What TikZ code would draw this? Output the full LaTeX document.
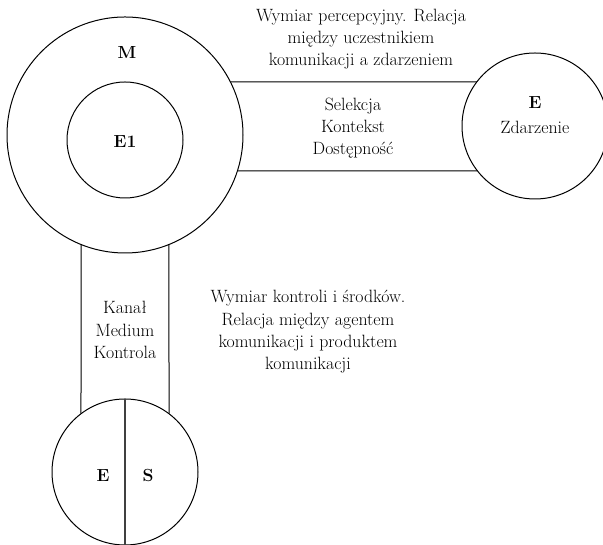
\documentclass[tikz,border=0pt]{standalone}
\usepackage{fontspec}
\usetikzlibrary{positioning}

\begin{document}
\begin{tikzpicture}[
  x = 1pt,
  y = 1pt,
  line width = 1pt,
  ring/.style = {
    shape = circle,
    draw = black,
    inner sep = 0pt,
    outer sep = 0pt
  },
  txt/.style = {
    align = center,
    font = \fontsize{17.8}{22.3}\selectfont
  },
  tag/.style = {
    font = \fontsize{17.5}{22}\selectfont\bfseries
  }
]
  \clip (0, 0) rectangle (603, 545);

  % the three circles
  \node[ring, minimum size = 236pt] (M) at (125, 410) {};
  \node[ring, minimum size = 116pt] (E1) at (125, 405) {};
  \node[ring, minimum size = 146pt] (E) at (535, 419) {};
  \node[ring, minimum size = 146pt] (ES) at (125, 73) {};

  \node[tag] (mlab) at (127, 492) {M};
  \node[tag] (e1lab) at (125, 403) {E1};
  \node[txt] (zdarz) at (535, 418) {Zdarzenie};
  \node[tag, above = 5pt of zdarz] (elab) {E};
  \node[tag] (eslab) at (103, 69) {E};
  \node[tag] (slab) at (148, 69) {S};

  % bands between the circles
  \draw ([shift = {(26.69:118)}] M.center) -- ([shift = {(142.93:73)}] E.center);
  \draw ([shift = {(-17.76:118)}] M.center) -- ([shift = {(218.06:73)}] E.center);
  \draw ([shift = {(-111.89:118)}] M.center) -- ([shift = {(127.07:73)}] ES.center);
  \draw ([shift = {(-68.11:118)}] M.center) -- ([shift = {(52.93:73)}] ES.center);
  \draw[line width = 1.4pt, draw = black!75] (ES.north) -- (ES.south);

  \node[txt] (sel) at (353, 417) {Selekcja\\Kontekst\\Dostępność};
  \node[txt] (kanal) at (125, 215) {Kanał\\Medium\\Kontrola};

  \node[txt] (percep) at (361, 506)
    {Wymiar percepcyjny. Relacja\\między uczestnikiem\\komunikacji a zdarzeniem};
  \node[txt] (kontr) at (308, 213)
    {Wymiar kontroli i środków.\\Relacja między agentem\\komunikacji i produktem\\komunikacji};
\end{tikzpicture}
\end{document}
